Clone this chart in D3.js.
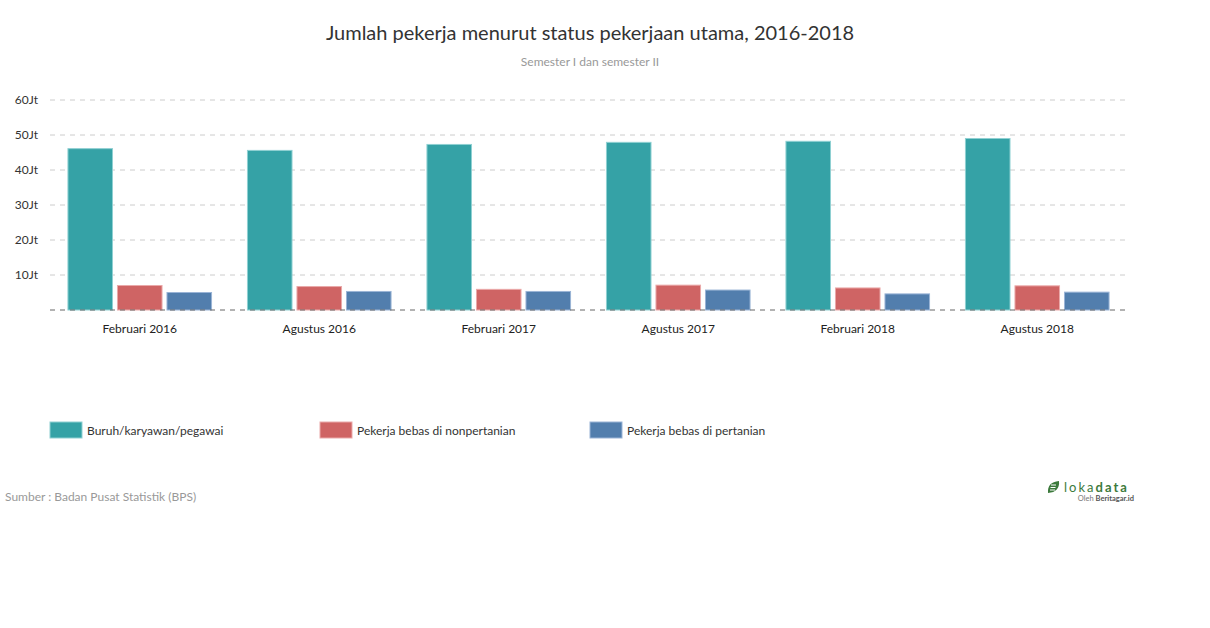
<html>
<head><meta charset="utf-8"/></head>
<script src="https://d3js.org/d3.v7.min.js"></script>
<style>
  body {margin: 0; background: #fff; font-family: Lato, "Open Sans", sans-serif;}
  .grid line {stroke: #ccc; stroke-dasharray: 5,5;}
</style>
<body>
<svg width="1210" height="628"></svg>
<script>
var categories = ["Februari 2016", "Agustus 2016", "Februari 2017", "Agustus 2017", "Februari 2018", "Agustus 2018"];
var seriesNames = ["Buruh/karyawan/pegawai", "Pekerja bebas di nonpertanian", "Pekerja bebas di pertanian"];
var buruh = [46.1, 45.6, 47.3, 47.9, 48.2, 49.0];
var nonpertanian = [7.0, 6.7, 5.9, 7.1, 6.3, 6.9];
var pertanian = [5.0, 5.3, 5.3, 5.7, 4.6, 5.1];
var yTicks = [10, 20, 30, 40, 50, 60];
var colors = ["#35a2a6", "#cf6464", "#527ead"];
var strokes = ["#8fd0d2", "#eaa9a9", "#9ab4d6"];

var series = [buruh, nonpertanian, pertanian];
var svg = d3.select("svg");

var plotLeft = 50, plotRight = 1127, plotTop = 100, plotBottom = 310;

var x = d3.scaleBand().domain(categories).range([plotLeft, plotRight]).paddingInner(0.2).paddingOuter(0.1);
var x1 = d3.scaleBand().domain(d3.range(3)).range([0, x.bandwidth()]).paddingInner(0.1);
var y = d3.scaleLinear().domain([0, 60]).range([plotBottom, plotTop]);

// title
svg.append("text").attr("x", 590).attr("y", 40).attr("text-anchor", "middle")
  .style("font-size", "20px").style("fill", "#333").text("Jumlah pekerja menurut status pekerjaan utama, 2016-2018");
svg.append("text").attr("x", 590).attr("y", 66).attr("text-anchor", "middle")
  .style("font-size", "12px").style("fill", "#999").text("Semester I dan semester II");

// grid
svg.append("g").attr("class", "grid").selectAll("line")
  .data(yTicks).enter().append("line")
  .attr("x1", plotLeft).attr("x2", plotRight)
  .attr("y1", function(d) { return y(d); }).attr("y2", function(d) { return y(d); });

// y axis labels
svg.append("g").selectAll("text")
  .data(yTicks).enter().append("text")
  .attr("x", 38).attr("y", function(d) { return y(d) + 4; })
  .attr("text-anchor", "end").style("font-size", "12px").style("fill", "#333")
  .text(function(d) { return d + "Jt"; });

// bars
var groups = svg.append("g").selectAll("g")
  .data(categories).enter().append("g")
  .attr("transform", function(d) { return "translate(" + x(d) + ",0)"; });

groups.selectAll("rect")
  .data(function(d, i) { return series.map(function(s, j) { return {j: j, v: s[i]}; }); })
  .enter().append("rect")
  .attr("x", function(d) { return x1(d.j); })
  .attr("width", x1.bandwidth())
  .attr("y", function(d) { return y(d.v); })
  .attr("height", function(d) { return y(0) - y(d.v); })
  .attr("fill", function(d) { return colors[d.j]; })
  .attr("stroke", function(d) { return strokes[d.j]; })
  .attr("stroke-width", 1);

// baseline
svg.append("line").attr("x1", plotLeft).attr("x2", plotRight)
  .attr("y1", y(0)).attr("y2", y(0))
  .attr("stroke", "#666").attr("stroke-dasharray", "5,5");

// x axis
var xAxis = svg.append("g").attr("transform", "translate(0," + y(0) + ")")
  .call(d3.axisBottom(x).tickSize(0).tickPadding(14));
xAxis.select(".domain").remove();
xAxis.selectAll("text").style("font-family", "Lato, sans-serif").style("font-size", "12px").style("fill", "#222");

// legend
var legend = svg.append("g").selectAll("g")
  .data(seriesNames).enter().append("g")
  .attr("transform", function(d, i) { return "translate(" + (50 + i * 270) + ",422)"; });
legend.append("rect").attr("width", 32).attr("height", 16)
  .attr("fill", function(d, i) { return colors[i]; })
  .attr("stroke", function(d, i) { return strokes[i]; });
legend.append("text").attr("x", 37).attr("y", 12.5)
  .style("font-size", "12px").style("fill", "#333").text(function(d) { return d; });

// source
svg.append("text").attr("x", 5).attr("y", 501)
  .style("font-size", "12px").style("fill", "#999").text("Sumber : Badan Pusat Statistik (BPS)");

// logo
var logo = svg.append("g").attr("transform", "translate(1047,481)");
logo.append("path").attr("d", "M1,12 Q0,1 12,0 Q13,11 1,12 Z").attr("fill", "#3c7a3c");
logo.append("path").attr("d", "M4,4 H9 M3.5,6.5 H8.5 M3,9 H8").attr("stroke", "#fff").attr("stroke-width", 1);
logo.append("text").attr("x", 17).attr("y", 11).style("font-size", "13px").style("letter-spacing", "2px")
  .style("fill", "#3c7a3c").html('loka<tspan font-weight="bold">data</tspan>');
logo.append("text").attr("x", 87).attr("y", 20).attr("text-anchor", "end").style("font-size", "7.5px")
  .style("fill", "#777").html('Oleh <tspan font-weight="bold" fill="#555">Beritagar.id</tspan>');
</script>
</body>
</html>
